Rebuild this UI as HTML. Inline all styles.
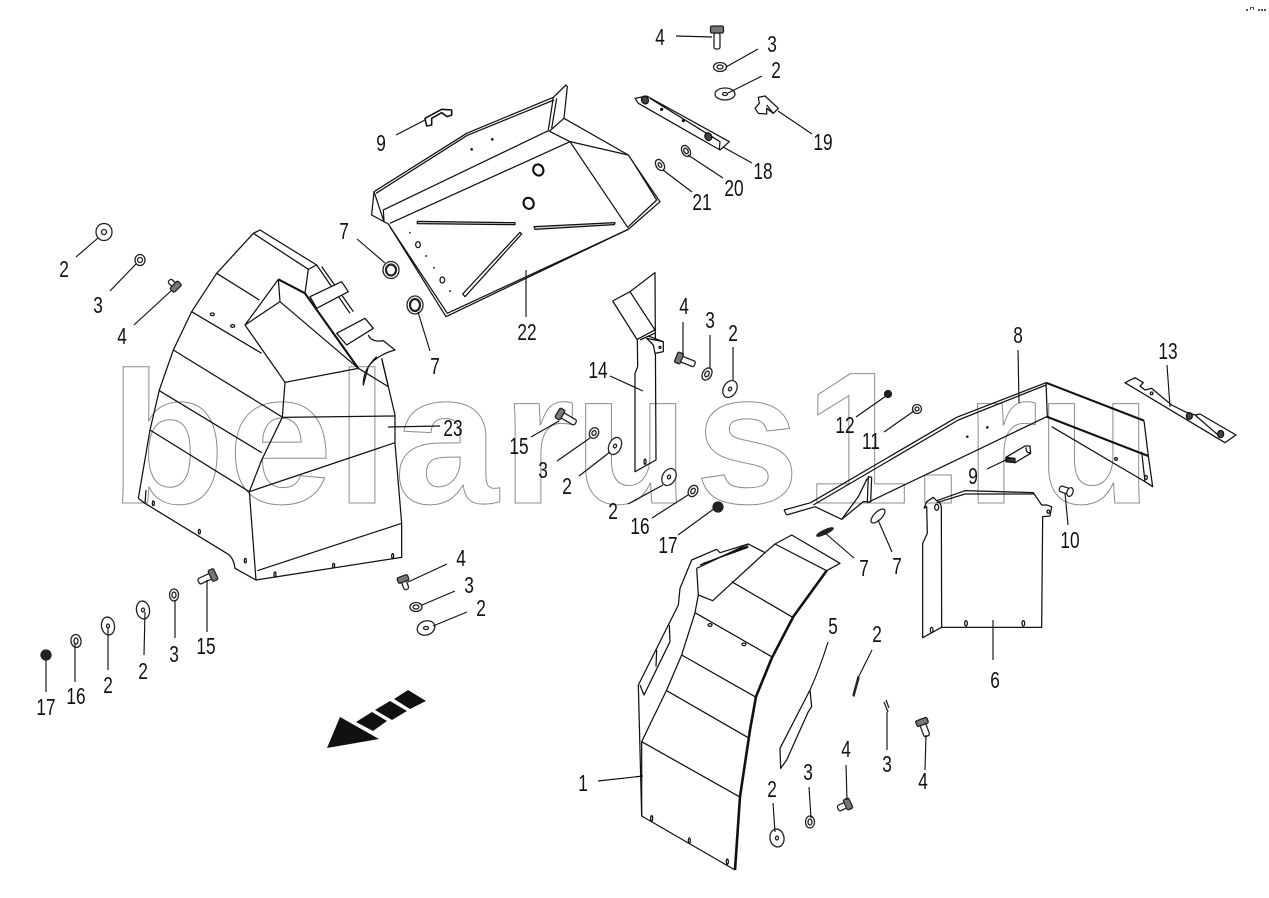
<!DOCTYPE html>
<html><head><meta charset="utf-8"><style>
html,body{margin:0;padding:0;background:#fff}
svg{display:block}
.wm{font:bold 188px "Liberation Sans",sans-serif;fill:none;stroke:#8c8c8c;stroke-width:1}
.l text{font:23px "Liberation Sans",sans-serif;fill:#111;text-anchor:middle}
.p *{fill:none;stroke:#111;stroke-width:1.25;vector-effect:non-scaling-stroke;stroke-linejoin:round}
.p .t{stroke-width:2.1}
.ld line{stroke:#111;stroke-width:1.15}
.hw *{fill:#fff;stroke:#222;stroke-width:1.3;vector-effect:non-scaling-stroke}
.hw .d{fill:#222}
.hw g>rect:last-child{fill:#777}
</style></head><body>
<svg width="1269" height="898" viewBox="0 0 1269 898" xmlns="http://www.w3.org/2000/svg">
<rect width="1269" height="898" fill="#fff"/>
<text class="wm" x="110 228 336 394 502 574 695 805 912 965 1037" y="503">belarus1.ru</text>

<!-- left fender 23 -->
<g class="p" transform="translate(120 220) scale(.33333)">
<path d="M55,835 L90,630 L118,510 L160,390 L215,275 L290,160 L400,40 L420,30 L590,135 L565,148 L400,40"/>
<path d="M565,148 L555,220 M590,135 L690,280 M605,140 L700,275"/>
<path d="M570,230 L665,185 L685,215 L590,265 Z" style="fill:#fff"/>
<path d="M650,340 L735,295 L760,325 L680,375 Z" style="fill:#fff"/>
<path d="M475,178 L375,315 L495,487 L487,592 L425,720 L388,815 L408,1080 M475,178 L480,245 L375,315 M480,245 L715,445 M495,487 L715,445 L805,500 L785,415"/>
<path class="t" d="M475,178 L555,220 L715,445"/>
<path d="M745,345 Q755,368 790,362 L825,390 Q770,405 745,440 L730,495 Q728,450 770,410"/>
<path d="M785,415 L805,500 L825,585 L825,670 L845,910 L845,1012 L408,1080 L345,1045 Q340,1010 320,1000 L75,850 L55,835 M75,850 L78,810"/>
<path d="M487,592 L825,588 M388,815 L825,668 M412,1052 L845,910"/>
<path d="M290,160 L418,240 M215,275 L425,400 M160,390 L488,592 M118,512 L425,698 M90,630 L388,815"/>
<ellipse cx="277" cy="283" rx="6" ry="4"/><ellipse cx="338" cy="318" rx="6" ry="4"/><ellipse cx="100" cy="850" rx="3" ry="7"/><ellipse cx="238" cy="935" rx="3" ry="7"/><ellipse cx="376" cy="1022" rx="3" ry="7"/><ellipse cx="465" cy="1063" rx="3" ry="7"/><ellipse cx="641" cy="1037" rx="3" ry="7"/><ellipse cx="818" cy="1008" rx="3" ry="7"/>
</g>

<!-- tray 22 -->
<g class="p" transform="translate(360 20) scale(.33333)">
<path d="M42,515 L320,340 L580,232 L618,195 L622,200 L612,295 L805,405 L825,435 L900,545 L805,628 L258,890 L85,612 L35,585 L42,515"/>
<path d="M48,520 L322,346 L582,240 M580,232 L565,330 M590,235 L575,325 M612,295 L570,332 M42,515 L72,605 L70,570 L565,332 M90,610 L630,365 M565,332 L630,365 L805,405 M630,365 L805,625 M825,435 L890,540 L805,620 M90,620 L262,880 L805,628"/>
<path d="M172,604 L465,608 L465,614 L172,611 Z" style="fill:#ccc"/>
<path d="M522,620 L765,608 L763,614 L525,628 Z" style="fill:#ccc"/>
<path d="M308,822 L480,637 L485,642 L315,830 Z"/>
<ellipse cx="535" cy="450" rx="15" ry="17" transform="rotate(-25 535 450)" class="t"/><ellipse cx="506" cy="550" rx="15" ry="17" transform="rotate(-25 506 550)" class="t"/>
<ellipse cx="174" cy="674" rx="7" ry="9"/><ellipse cx="247" cy="780" rx="7" ry="9"/>
<circle cx="397" cy="358" r="2"/><circle cx="335" cy="388" r="2"/><circle cx="150" cy="638" r="1"/><circle cx="198" cy="708" r="1"/><circle cx="222" cy="743" r="1"/><circle cx="270" cy="813" r="1"/>
</g>

<!-- fender 1 and part 5 -->
<g class="p" transform="translate(620 530) scale(.33333)">
<path d="M345,1020 L65,858 L55,465 L175,225 L180,175 L215,90 L290,58 L300,68 L385,42 L435,68 L465,42 L515,15 L660,100 L620,122"/>
<path class="t" d="M620,122 L520,260 L455,385 L408,500 L390,600 L360,800 L345,1020" style="stroke-width:2.6"/>
<path d="M230,115 L235,195 L225,248 L185,375 L140,480 L65,635 L65,858 M230,115 L385,42 M240,105 L385,48 M250,100 L385,52"/>
<path d="M235,195 L278,212 L435,68"/>
<path d="M335,155 L520,263 M465,42 L620,122 M225,248 L455,380 M185,375 L405,500 M140,482 L388,625 M65,635 L358,800"/>
<path d="M60,465 L72,495 L150,335 L148,285 M110,360 L108,410"/>
<path d="M480,655 L570,480 L575,530 L565,545 L500,690 L482,715 Z"/>
<ellipse cx="270" cy="285" rx="6" ry="4"/><ellipse cx="372" cy="343" rx="6" ry="4"/><ellipse cx="95" cy="865" rx="3" ry="8"/><ellipse cx="208" cy="932" rx="3" ry="8"/><ellipse cx="322" cy="995" rx="3" ry="8"/>
</g>

<!-- rail 8 and sheet 6 -->
<g class="p" transform="translate(780 370) scale(.33333)">
<path d="M12,420 L92,398 L530,142 L798,38"/><path d="M100,405 L535,150 L798,45 M20,435 L105,410 M12,420 L20,435"/>
<path class="t" d="M798,38 L1092,152 M800,140 L1105,258"/>
<path d="M800,140 L262,398 M815,170 L1095,335 M798,38 L802,140 M1092,152 L1105,258 L1118,350 L1095,335 M1085,245 L1095,335"/>
<path d="M105,410 L185,448 L235,380 L262,325 M185,448 L250,395 L262,395 L265,320 L275,322 L272,395 L262,398"/>
<circle cx="622" cy="172" r="2"/><circle cx="562" cy="200" r="2"/><circle cx="1008" cy="267" r="4"/><ellipse cx="1098" cy="322" rx="4" ry="6"/>
<path d="M432,415 L440,395 L460,382 L470,392 L555,362 L760,368 L785,405 L800,405 L815,410 L810,438 L788,440 L785,772 L485,772 L428,803 L428,520 L442,490 L440,410 L432,415"/>
<path d="M485,772 L484,410 Q480,395 470,392 M470,398 L555,372 L762,372"/>
<ellipse cx="558" cy="760" rx="4" ry="8"/><ellipse cx="730" cy="760" rx="4" ry="8"/><ellipse cx="455" cy="780" rx="4" ry="8"/><ellipse cx="470" cy="412" rx="6" ry="9"/><ellipse cx="805" cy="425" rx="4" ry="5"/>
<path d="M678,262 L735,228 L750,228 L752,250 L705,278 L678,275 Z M738,232 Q738,250 750,248"/>
<path d="M678,262 L705,265 L705,278 L678,275 Z" style="fill:#333"/>
</g>

<!-- part 14 -->
<g class="p" transform="translate(500 260) scale(.33333)">
<path d="M338,123 L390,95 L465,38 L468,600 L405,635 L405,340 L413,320 L412,240 L338,123 M390,95 L465,210 M412,238 L468,208 M420,240 L468,218"/>
<path d="M440,235 L490,245 L490,275 L465,280 L460,255 L440,235 Z M445,228 L490,245" style="fill:#fff"/>
<ellipse cx="435" cy="605" rx="3" ry="8"/><circle cx="480" cy="262" r="3"/>
</g>

<!-- part 18, 19 -->
<g class="p" transform="translate(620 20) scale(.33333)">
<path d="M45,235 L80,228 L328,365 L300,390 L55,250 Z M90,235 L300,365 L298,388"/>
<ellipse cx="75" cy="240" rx="10" ry="12" transform="rotate(-30 75 240)" style="fill:#444"/><ellipse cx="265" cy="350" rx="10" ry="12" transform="rotate(-30 265 350)" style="fill:#444"/>
<path d="M415,232 L435,228 L475,265 L460,280 L440,265 L440,282 L415,280 L405,265 L418,250 Z M440,255 L460,280"/>
<circle cx="125" cy="268" r="3" style="fill:#444"/><circle cx="190" cy="302" r="3" style="fill:#444"/>
</g>

<!-- part 13 -->
<g class="p" transform="translate(1110 340) scale(.33333)">
<path d="M45,128 L75,113 L100,128 L90,138 L105,150 L125,145 L185,195 L225,215 L255,225 L270,222 L378,285 L345,308 L45,128 Z M255,225 L330,290"/>
<circle cx="125" cy="160" r="4"/><ellipse cx="238" cy="228" rx="9" ry="10" style="fill:#444"/><ellipse cx="332" cy="282" rx="9" ry="11" style="fill:#444"/>
</g>

<!-- part 9 top -->
<g class="p" transform="translate(360 20) scale(.33333)">
<path d="M195,295 L245,268 L275,270 L275,285 L262,290 L245,278 L215,295 L215,315 L200,318 Z" style="stroke-width:1.6"/>
</g>

<!-- washers etc. -->
<g class="hw">
<ellipse cx="720" cy="67" rx="6.5" ry="4.5"/><ellipse cx="720" cy="67" rx="3" ry="2"/>
<ellipse cx="725" cy="94" rx="10" ry="6"/><ellipse cx="725" cy="94" rx="2.5" ry="1.5"/>
<ellipse cx="686" cy="151" rx="4" ry="6" transform="rotate(-30 686 151)"/><ellipse cx="686" cy="151" rx="2" ry="3" transform="rotate(-30 686 151)"/>
<ellipse cx="660" cy="165" rx="4" ry="6" transform="rotate(-30 660 165)"/><ellipse cx="660" cy="165" rx="1.5" ry="2.5" transform="rotate(-30 660 165)"/>
<ellipse cx="104" cy="232" rx="8" ry="8.5"/><ellipse cx="104" cy="232" rx="2.5" ry="2.5"/>
<ellipse cx="140" cy="260" rx="5" ry="5.5"/><ellipse cx="140" cy="260" rx="2.5" ry="2.5"/>
<ellipse cx="391" cy="270" rx="8" ry="8.5"/><ellipse cx="391" cy="270" rx="5" ry="5.5" style="stroke-width:2.2"/>
<ellipse cx="415" cy="305" rx="8" ry="9"/><ellipse cx="415" cy="305" rx="5" ry="6" style="stroke-width:2.2"/>
<ellipse cx="707" cy="374" rx="4.5" ry="6.5" transform="rotate(30 707 374)"/><ellipse cx="707" cy="374" rx="2" ry="3" transform="rotate(30 707 374)"/>
<ellipse cx="730" cy="389" rx="6.5" ry="9" transform="rotate(30 730 389)"/><ellipse cx="730" cy="389" rx="1.5" ry="2" transform="rotate(30 730 389)"/>
<ellipse cx="594" cy="433" rx="4.5" ry="5.5" transform="rotate(30 594 433)"/><ellipse cx="594" cy="433" rx="2" ry="2.5" transform="rotate(30 594 433)"/>
<ellipse cx="615" cy="446" rx="6" ry="9" transform="rotate(25 615 446)"/><ellipse cx="615" cy="446" rx="1.5" ry="2" transform="rotate(25 615 446)"/>
<ellipse cx="669" cy="477" rx="6.5" ry="9" transform="rotate(30 669 477)"/><ellipse cx="669" cy="477" rx="1.5" ry="2" transform="rotate(30 669 477)"/>
<ellipse cx="693" cy="491" rx="4.5" ry="6" transform="rotate(30 693 491)"/><ellipse cx="693" cy="491" rx="2" ry="3" transform="rotate(30 693 491)"/>
<ellipse cx="917" cy="409" rx="4.5" ry="4.5"/><ellipse cx="917" cy="409" rx="2" ry="2"/>
<ellipse cx="174" cy="595" rx="4.5" ry="6"/><ellipse cx="174" cy="595" rx="2" ry="3"/>
<ellipse cx="143" cy="610" rx="6.5" ry="9" transform="rotate(-10 143 610)"/><ellipse cx="143" cy="610" rx="1.5" ry="2"/>
<ellipse cx="108" cy="626" rx="6.5" ry="9" transform="rotate(-10 108 626)"/><ellipse cx="108" cy="626" rx="1.5" ry="2"/>
<ellipse cx="76" cy="641" rx="5" ry="6.5" transform="rotate(-10 76 641)"/><ellipse cx="76" cy="641" rx="2" ry="3"/>
<ellipse cx="416" cy="607" rx="6" ry="4.5"/><ellipse cx="416" cy="607" rx="3" ry="2"/>
<ellipse cx="426" cy="628" rx="9" ry="7" transform="rotate(-20 426 628)"/><ellipse cx="426" cy="628" rx="2.5" ry="1.5"/>
<ellipse cx="777" cy="838" rx="7" ry="9" transform="rotate(-10 777 838)"/><ellipse cx="777" cy="838" rx="1.5" ry="2"/>
<ellipse cx="810" cy="822" rx="4.5" ry="6"/><ellipse cx="810" cy="822" rx="2" ry="3"/>
<!-- 7 slivers -->
<ellipse cx="825" cy="532" rx="9" ry="2" transform="rotate(-25 825 532)" class="d"/>
<ellipse cx="878" cy="516" rx="9" ry="4" transform="rotate(-45 878 516)"/>
<path d="M853,695 L858,677 L859,678 L854,696 Z"/><path d="M884,702 L888,712 M886,700 L889,708"/>
<!-- nuts -->
<circle class="d" cx="888" cy="394" r="3.5"/><circle class="d" cx="718" cy="507" r="5"/><circle class="d" cx="46" cy="655" r="5"/>
<!-- bolts -->
<g transform="translate(717 31) rotate(90)"><rect x="2" y="-3" width="16" height="6" rx="2"/><rect x="-5" y="-6.5" width="7" height="13" rx="1.5"/></g>
<g transform="translate(175 286) rotate(-135)"><rect x="1" y="-2.5" width="7" height="5" rx="2"/><rect x="-4" y="-5.5" width="6" height="11" rx="1.5"/></g>
<g transform="translate(560 414) rotate(30)"><rect x="2" y="-3" width="16" height="6" rx="2"/><rect x="-3" y="-5.5" width="6" height="11" rx="1.5"/></g>
<g transform="translate(679 358) rotate(22)"><rect x="2" y="-3" width="15" height="6" rx="2"/><rect x="-3" y="-5.5" width="6" height="11" rx="1.5"/></g>
<g transform="translate(213 575) rotate(155)"><rect x="2" y="-3" width="14" height="6" rx="2"/><rect x="-3" y="-6" width="6" height="12" rx="1.5"/></g>
<g transform="translate(403 579) rotate(70)"><rect x="2" y="-2.5" width="9" height="5" rx="2"/><rect x="-3" y="-5.5" width="6" height="11" rx="1.5"/></g>
<g transform="translate(922 722) rotate(70)"><rect x="2" y="-3" width="13" height="6" rx="2"/><rect x="-3" y="-6" width="6" height="12" rx="1.5"/></g>
<g transform="translate(848 804) rotate(155)"><rect x="2" y="-3" width="9" height="6" rx="2"/><rect x="-3" y="-5.5" width="6" height="11" rx="1.5"/></g>
<g transform="translate(1070 492) rotate(200)"><rect x="1" y="-3" width="10" height="6" rx="2"/><ellipse rx="3" ry="4.5"/></g>
</g>

<!-- arrow -->
<g fill="#111">
<polygon points="340,717 379,739 327,748"/>
<polygon points="372,712 387,721 373,731 356,722"/>
<polygon points="390,701 407,711 392,720 375,710"/>
<polygon points="408,690 426,701 410,709 394,699"/>
</g>

<!-- leaders -->
<g class="ld">
<line x1="676" y1="36" x2="712" y2="37"/><line x1="758" y1="49" x2="726" y2="67"/><line x1="762" y1="76" x2="728" y2="93"/>
<line x1="812" y1="134" x2="778" y2="111"/><line x1="752" y1="163" x2="723" y2="147"/><line x1="723" y1="178" x2="688" y2="155"/><line x1="692" y1="192" x2="663" y2="170"/>
<line x1="396" y1="135" x2="425" y2="120"/><line x1="357" y1="239" x2="385" y2="263"/><line x1="430" y1="351" x2="418" y2="312"/>
<line x1="76" y1="257" x2="98" y2="238"/><line x1="110" y1="291" x2="136" y2="264"/><line x1="134" y1="325" x2="172" y2="290"/>
<line x1="526" y1="270" x2="526" y2="317"/><line x1="610" y1="376" x2="643" y2="391"/>
<line x1="683" y1="322" x2="683" y2="355"/><line x1="710" y1="335" x2="710" y2="368"/><line x1="733" y1="347" x2="733" y2="380"/>
<line x1="531" y1="437" x2="559" y2="421"/><line x1="557" y1="461" x2="590" y2="438"/><line x1="579" y1="476" x2="610" y2="452"/><line x1="628" y1="504" x2="663" y2="485"/><line x1="652" y1="518" x2="688" y2="495"/><line x1="678" y1="535" x2="715" y2="508"/>
<line x1="388" y1="427" x2="440" y2="426"/><line x1="1018" y1="350" x2="1019" y2="403"/><line x1="1167" y1="365" x2="1170" y2="407"/>
<line x1="856" y1="417" x2="886" y2="396"/><line x1="884" y1="432" x2="914" y2="411"/><line x1="987" y1="469" x2="1010" y2="458"/><line x1="1068" y1="525" x2="1065" y2="493"/>
<line x1="854" y1="558" x2="825" y2="533"/><line x1="892" y1="552" x2="878" y2="520"/>
<path d="M828,642 Q820,668 810,690" fill="none" stroke="#111" stroke-width="1.15"/>
<line x1="872" y1="650" x2="857" y2="680"/><line x1="993" y1="620" x2="993" y2="660"/><line x1="887" y1="712" x2="887" y2="750"/><line x1="926" y1="735" x2="925" y2="770"/>
<line x1="846" y1="765" x2="847" y2="800"/><line x1="809" y1="787" x2="811" y2="818"/><line x1="773" y1="803" x2="775" y2="832"/><line x1="598" y1="781" x2="643" y2="776"/>
<line x1="447" y1="564" x2="408" y2="582"/><line x1="455" y1="591" x2="422" y2="605"/><line x1="467" y1="612" x2="433" y2="626"/>
<line x1="207" y1="632" x2="207" y2="580"/><line x1="175" y1="638" x2="175" y2="600"/><line x1="144" y1="655" x2="145" y2="612"/><line x1="108" y1="670" x2="108" y2="628"/><line x1="75" y1="682" x2="75" y2="643"/><line x1="46" y1="692" x2="46" y2="660"/>
</g>

<!-- labels -->
<g class="l">
<text transform="translate(660 45) scale(.75 1)">4</text><text transform="translate(772 52) scale(.75 1)">3</text><text transform="translate(776 78) scale(.75 1)">2</text>
<text transform="translate(823 150) scale(.75 1)">19</text><text transform="translate(763 179) scale(.75 1)">18</text><text transform="translate(734 196) scale(.75 1)">20</text><text transform="translate(702 210) scale(.75 1)">21</text>
<text transform="translate(381 151) scale(.75 1)">9</text><text transform="translate(344 239) scale(.75 1)">7</text><text transform="translate(64 277) scale(.75 1)">2</text><text transform="translate(98 313) scale(.75 1)">3</text><text transform="translate(122 344) scale(.75 1)">4</text>
<text transform="translate(435 374) scale(.75 1)">7</text><text transform="translate(527 340) scale(.75 1)">22</text><text transform="translate(598 378) scale(.75 1)">14</text>
<text transform="translate(684 314) scale(.75 1)">4</text><text transform="translate(710 328) scale(.75 1)">3</text><text transform="translate(733 341) scale(.75 1)">2</text>
<text transform="translate(453 436) scale(.75 1)">23</text><text transform="translate(519 454) scale(.75 1)">15</text><text transform="translate(543 478) scale(.75 1)">3</text><text transform="translate(567 494) scale(.75 1)">2</text><text transform="translate(613 519) scale(.75 1)">2</text><text transform="translate(640 534) scale(.75 1)">16</text><text transform="translate(668 553) scale(.75 1)">17</text>
<text transform="translate(1018 343) scale(.75 1)">8</text><text transform="translate(1168 359) scale(.75 1)">13</text><text transform="translate(845 433) scale(.75 1)">12</text><text transform="translate(871 449) scale(.75 1)">11</text><text transform="translate(973 484) scale(.75 1)">9</text><text transform="translate(1070 548) scale(.75 1)">10</text>
<text transform="translate(864 576) scale(.75 1)">7</text><text transform="translate(897 574) scale(.75 1)">7</text><text transform="translate(833 634) scale(.75 1)">5</text><text transform="translate(877 642) scale(.75 1)">2</text><text transform="translate(995 688) scale(.75 1)">6</text>
<text transform="translate(887 772) scale(.75 1)">3</text><text transform="translate(923 789) scale(.75 1)">4</text><text transform="translate(846 757) scale(.75 1)">4</text><text transform="translate(808 780) scale(.75 1)">3</text><text transform="translate(772 797) scale(.75 1)">2</text><text transform="translate(583 791) scale(.75 1)">1</text>
<text transform="translate(461 566) scale(.75 1)">4</text><text transform="translate(469 593) scale(.75 1)">3</text><text transform="translate(481 616) scale(.75 1)">2</text>
<text transform="translate(206 654) scale(.75 1)">15</text><text transform="translate(174 662) scale(.75 1)">3</text><text transform="translate(143 679) scale(.75 1)">2</text><text transform="translate(108 693) scale(.75 1)">2</text><text transform="translate(76 704) scale(.75 1)">16</text><text transform="translate(46 715) scale(.75 1)">17</text>
</g>

<!-- corner marks -->
<g fill="#555"><rect x="1246" y="9" width="2" height="2"/><rect x="1250" y="7" width="4" height="1"/><rect x="1250" y="7" width="1" height="3"/><rect x="1253" y="7" width="1" height="3"/><rect x="1258" y="9" width="2" height="2"/><rect x="1261" y="9" width="2" height="2"/><rect x="1264" y="9" width="2" height="2"/></g>
</svg>
</body></html>
